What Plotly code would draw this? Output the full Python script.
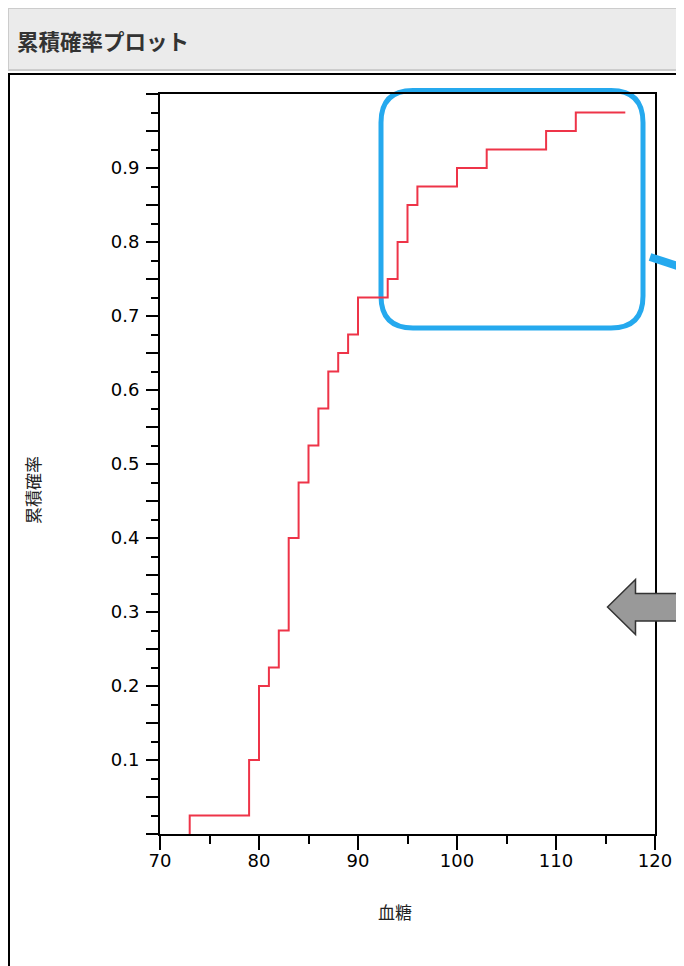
import plotly.graph_objects as go

# ---- data ----
glucose = [73, 73, 79, 80, 81, 82, 83, 84, 85, 86, 87, 88, 89, 90, 93, 94, 95, 96, 100, 103, 109, 112, 117]
cum_prob = [0, 0.025, 0.1, 0.2, 0.225, 0.275, 0.4, 0.475, 0.525, 0.575, 0.625, 0.65, 0.675, 0.725,
            0.75, 0.8, 0.85, 0.875, 0.9, 0.925, 0.95, 0.975, 0.975]

y_tickvals = [round(i * 0.05, 2) for i in range(21)]
y_ticktext = [("%.1f" % v) if (i % 2 == 0 and 0 < v < 1) else "" for i, v in enumerate(y_tickvals)]
x_tickvals = [70, 80, 90, 100, 110, 120]
x_ticktext = ["70", "80", "90", "100", "110", "120"]

title_text = "累積確率プロット"
x_title = "血糖"
y_title = "累積確率"

# ---- layout geometry (screen pixels; page body has an 8px margin) ----
OFF = 8
W, H = 684 - OFF, 966 - OFF
L, R, T, B = 160, 655, 94, 834


def px(x):
    return (x - L) / (R - L)


def py(y):
    return (B - y) / (B - T)


fig = go.Figure()
fig.add_trace(go.Scatter(
    x=glucose, y=cum_prob, mode="lines",
    line=dict(color="#ee3448", width=2, shape="hv"),
    hoverinfo="skip", showlegend=False,
))

font_ax = dict(family="DejaVu Sans, Verdana, sans-serif", size=18, color="#000")
font_cjk = "Noto Sans CJK JP, sans-serif"

fig.update_layout(
    width=W, height=H,
    margin=dict(l=L - OFF, r=684 - R, t=T - OFF, b=966 - B, autoexpand=False),
    paper_bgcolor="white", plot_bgcolor="rgba(0,0,0,0)",
    xaxis=dict(
        range=[70, 120], tickvals=x_tickvals, ticktext=x_ticktext,
        ticks="outside", ticklen=14, tickwidth=2, tickcolor="black",
        minor=dict(dtick=5, tick0=70, ticks="outside", ticklen=8, tickwidth=2, tickcolor="black"),
        showline=True, linecolor="black", linewidth=2, mirror=True,
        showgrid=False, zeroline=False, tickfont=font_ax, automargin=False,
        ticklabelstandoff=-5,
    ),
    yaxis=dict(
        range=[0, 1], tickvals=y_tickvals, ticktext=y_ticktext,
        ticks="outside", ticklen=12, tickwidth=2, tickcolor="black",
        minor=dict(dtick=0.025, tick0=0, ticks="outside", ticklen=7, tickwidth=2, tickcolor="black"),
        showline=True, linecolor="black", linewidth=2, mirror=True,
        showgrid=False, zeroline=False, tickfont=font_ax, automargin=False,
        ticklabelstandoff=3,
    ),
)

shapes = []
# title bar
shapes.append(dict(type="rect", xref="paper", yref="paper", layer="below",
                   x0=px(8), x1=px(720), y0=py(8), y1=py(70),
                   fillcolor="#ebebeb", line=dict(color="#cccccc", width=2)))
# outer chart box
shapes.append(dict(type="rect", xref="paper", yref="paper", layer="below",
                   x0=px(9), x1=px(740), y0=py(74), y1=py(1000),
                   fillcolor="white", line=dict(color="black", width=2)))

# blue rounded highlight
l_, r_, t_, b_, rad = 381, 643, 90.5, 328, 32
path = (
    f"M {px(l_ + rad)} {py(t_)} L {px(r_ - rad)} {py(t_)} "
    f"Q {px(r_)} {py(t_)} {px(r_)} {py(t_ + rad)} "
    f"L {px(r_)} {py(b_ - rad)} "
    f"Q {px(r_)} {py(b_)} {px(r_ - rad)} {py(b_)} "
    f"L {px(l_ + rad)} {py(b_)} "
    f"Q {px(l_)} {py(b_)} {px(l_)} {py(b_ - rad)} "
    f"L {px(l_)} {py(t_ + rad)} "
    f"Q {px(l_)} {py(t_)} {px(l_ + rad)} {py(t_)} Z"
)
shapes.append(dict(type="path", xref="paper", yref="paper", layer="below",
                   path=path, line=dict(color="#25a9ee", width=5)))
# blue callout pointer
shapes.append(dict(type="line", xref="paper", yref="paper", layer="above",
                   x0=px(650), y0=py(257), x1=px(720), y1=py(280),
                   line=dict(color="#25a9ee", width=8)))
# gray arrow
ap = (
    f"M {px(607.5)} {py(607)} L {px(635.5)} {py(579.5)} L {px(635.5)} {py(593.5)} "
    f"L {px(720)} {py(593.5)} L {px(720)} {py(621)} L {px(635.5)} {py(621)} "
    f"L {px(635.5)} {py(634.5)} Z"
)
shapes.append(dict(type="path", xref="paper", yref="paper", layer="above",
                   path=ap, fillcolor="#999999", line=dict(color="#333333", width=1.5)))
fig.update_layout(shapes=shapes)

fig.add_annotation(
    text=f"<b>{title_text}</b>", xref="paper", yref="paper",
    x=px(15), y=py(40), xanchor="left", yanchor="middle", showarrow=False,
    font=dict(family=font_cjk, size=21.5, color="#333"),
)
# axis titles
fig.add_annotation(
    text=x_title, xref="paper", yref="paper",
    x=px(395), y=py(911), xanchor="center", yanchor="middle", showarrow=False,
    font=dict(family=font_cjk, size=17, color="#222"),
)
fig.add_annotation(
    text=y_title, xref="paper", yref="paper", textangle=-90,
    x=px(32), y=py(490), xanchor="center", yanchor="middle", showarrow=False,
    font=dict(family=font_cjk, size=17, color="#222"),
)

fig.write_html("out.html")
